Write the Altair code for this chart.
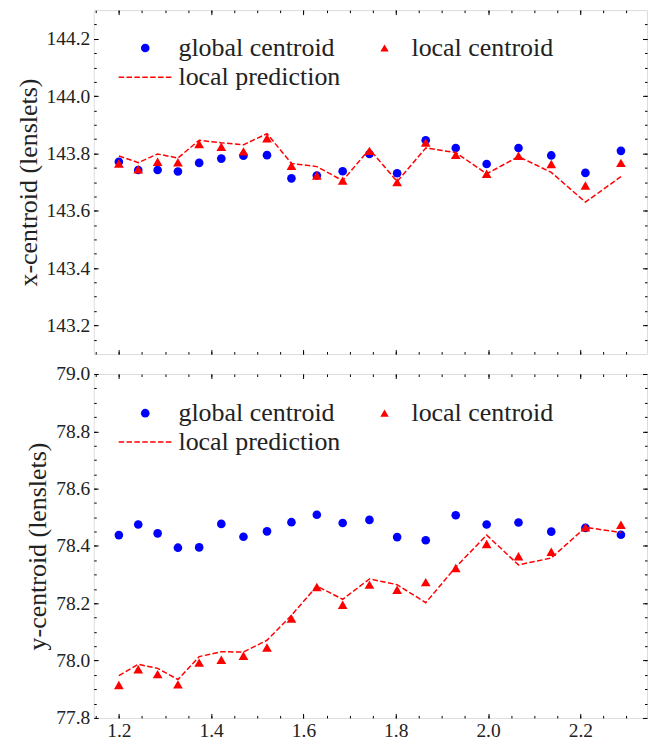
import altair as alt
import pandas as pd

# ---- data ----
xs = [1.200, 1.242, 1.284, 1.328, 1.374, 1.422, 1.470, 1.521, 1.574, 1.629,
      1.685, 1.743, 1.803, 1.865, 1.930, 1.997, 2.066, 2.137, 2.211, 2.288]

top_global = [143.771, 143.742, 143.742, 143.737, 143.767, 143.782, 143.792, 143.794, 143.713, 143.723,
              143.738, 143.798, 143.731, 143.846, 143.819, 143.763, 143.819, 143.793, 143.732, 143.809]
top_local = [143.765, 143.745, 143.771, 143.769, 143.833, 143.823, 143.807, 143.853, 143.757, 143.723,
             143.705, 143.809, 143.700, 143.838, 143.795, 143.729, 143.792, 143.763, 143.688, 143.767]
top_pred = [143.791, 143.768, 143.798, 143.784, 143.846, 143.837, 143.830, 143.869, 143.765, 143.754,
            143.705, 143.815, 143.702, 143.819, 143.803, 143.729, 143.789, 143.734, 143.630, 143.719]

bot_global = [78.438, 78.475, 78.444, 78.394, 78.395, 78.477, 78.432, 78.451, 78.483, 78.509,
              78.480, 78.491, 78.431, 78.420, 78.507, 78.475, 78.482, 78.450, 78.463, 78.439]
bot_local = [77.915, 77.970, 77.953, 77.917, 77.993, 78.003, 78.017, 78.046, 78.147, 78.257,
             78.195, 78.265, 78.247, 78.274, 78.323, 78.407, 78.364, 78.380, 78.465, 78.474]
bot_pred = [77.948, 77.987, 77.973, 77.934, 78.014, 78.031, 78.030, 78.071, 78.158, 78.260,
            78.214, 78.285, 78.265, 78.202, 78.326, 78.438, 78.334, 78.358, 78.465, 78.447]

series_names = ["global centroid", "local centroid", "local prediction"]

x_major = [1.2, 1.4, 1.6, 1.8, 2.0, 2.2]
x_minor = [round(1.15 + 0.05 * i, 2) for i in range(24)]
top_major = [143.2, 143.4, 143.6, 143.8, 144.0, 144.2]
top_minor = [round(143.15 + 0.05 * i, 2) for i in range(23)]
bot_major = [77.8, 78.0, 78.2, 78.4, 78.6, 78.8, 79.0]
bot_minor = [round(77.85 + 0.05 * i, 2) for i in range(23)]

X_DOMAIN = [1.1455, 2.3445]
TOP_DOMAIN = [143.1, 144.3]
BOT_DOMAIN = [77.8, 79.0]

FONT = "Liberation Serif, Times New Roman, serif"
RED = "#ff0000"
BLUE = "#0000ff"
INK = "#222222"
MAJ = 4.5
MIN = 2.5
LEG_FS = 26


def ax(orient, values, size, labels, title=None):
    kw = dict(orient=orient, values=values, tickSize=size, offset=-size, domain=False,
              grid=False, labels=labels, ticks=True, tickColor="#000000", tickWidth=1,
              format=".1f", labelFont=FONT, labelFontSize=19.5, labelColor=INK,
              labelPadding=4, labelFlush=False, labelOverlap=False, labelBound=False)
    if title is not None:
        kw.update(title=title, titleFont=FONT, titleFontSize=26, titleFontWeight="normal",
                  titleColor=INK, titlePadding=5)
    else:
        kw.update(title=None)
    return alt.Axis(**kw)


def panel(glob, loc, pred, ydom, ymaj, ymin, ytitle, xlabels, leg):
    df = pd.DataFrame({"x": xs, "g": glob, "l": loc, "p": pred,
                       "sg": series_names[0], "sl": series_names[1], "sp": series_names[2]})
    base = alt.Chart(df)
    xs_ = alt.Scale(domain=X_DOMAIN, nice=False, zero=False)
    ys_ = alt.Scale(domain=ydom, nice=False, zero=False)
    (cy, ty, dy) = leg

    circles = base.mark_point(filled=True, color=BLUE, size=75, opacity=1).encode(
        x=alt.X("x:Q", scale=xs_, axis=ax("bottom", x_minor, MIN, False)),
        y=alt.Y("g:Q", scale=ys_, axis=ax("left", ymin, MIN, False)),
        shape=alt.Shape("sg:N", scale=alt.Scale(domain=[series_names[0]], range=["circle"]),
                        legend=alt.Legend(orient="none", legendX=38.7, legendY=cy, title=None,
                                          padding=0, symbolSize=75, symbolFillColor=BLUE,
                                          symbolStrokeWidth=0, symbolOpacity=1,
                                          labelFont=FONT, labelFontSize=LEG_FS, labelColor=INK,
                                          labelOffset=20.3, labelLimit=400)),
    )
    triangles = base.mark_point(filled=True, color=RED, size=95, opacity=1).encode(
        x=alt.X("x:Q", scale=xs_, axis=ax("top", x_major, MAJ, False)),
        y=alt.Y("l:Q", scale=ys_, axis=ax("right", ymaj, MAJ, False)),
        shape=alt.Shape("sl:N", scale=alt.Scale(domain=[series_names[1]], range=["triangle-up"]),
                        legend=alt.Legend(orient="none", legendX=278.7, legendY=ty, title=None,
                                          padding=0, symbolSize=70, symbolFillColor=RED,
                                          symbolStrokeWidth=0, symbolOpacity=1,
                                          labelFont=FONT, labelFontSize=LEG_FS, labelColor=INK,
                                          labelOffset=14, labelLimit=400)),
    )
    line = base.mark_line(color=RED, strokeWidth=1.5).encode(
        x=alt.X("x:Q", scale=xs_, axis=ax("bottom", x_major, MAJ, xlabels)),
        y=alt.Y("p:Q", scale=ys_, axis=ax("left", ymaj, MAJ, True, ytitle)),
        strokeDash=alt.StrokeDash("sp:N", scale=alt.Scale(domain=[series_names[2]], range=[[5.5, 2.4]]),
                                  legend=alt.Legend(orient="none", legendX=24.2, legendY=dy, title=None,
                                                    padding=0, symbolType="stroke", symbolSize=2852,
                                                    symbolStrokeColor=RED, symbolStrokeWidth=1.5,
                                                    labelFont=FONT, labelFontSize=LEG_FS, labelColor=INK,
                                                    labelOffset=5.8, labelLimit=400)),
    )
    carrier = base.mark_point(opacity=0, size=1).encode(
        x=alt.X("x:Q", scale=xs_, axis=ax("top", x_minor, MIN, False)),
        y=alt.Y("l:Q", scale=ys_, axis=ax("right", ymin, MIN, False)),
    )
    return alt.layer(circles, triangles, line, carrier).resolve_scale(
        x="independent", y="independent", shape="independent", strokeDash="independent"
    ).resolve_axis(x="independent", y="independent").resolve_legend(
        shape="independent", strokeDash="independent"
    ).properties(width=555, height=345)


top = panel(top_global, top_local, top_pred, TOP_DOMAIN, top_major, top_minor,
            "x-centroid (lenslets)", False, (25.0, 25.0, 39.9))
bottom = panel(bot_global, bot_local, bot_pred, BOT_DOMAIN, bot_major, bot_minor,
               "y-centroid (lenslets)", True, (26.3, 26.3, 40.8))

chart = alt.vconcat(top, bottom, spacing=20, bounds="flush").resolve_scale(
    shape="independent", strokeDash="independent"
).resolve_legend(shape="independent", strokeDash="independent").properties(
    padding={"left": 14, "top": 8, "right": 5, "bottom": 5}
).configure_view(stroke="#000000", strokeWidth=1.2).configure(background="white")

chart.save("out.html", embed_options={"renderer": "svg", "actions": False})
